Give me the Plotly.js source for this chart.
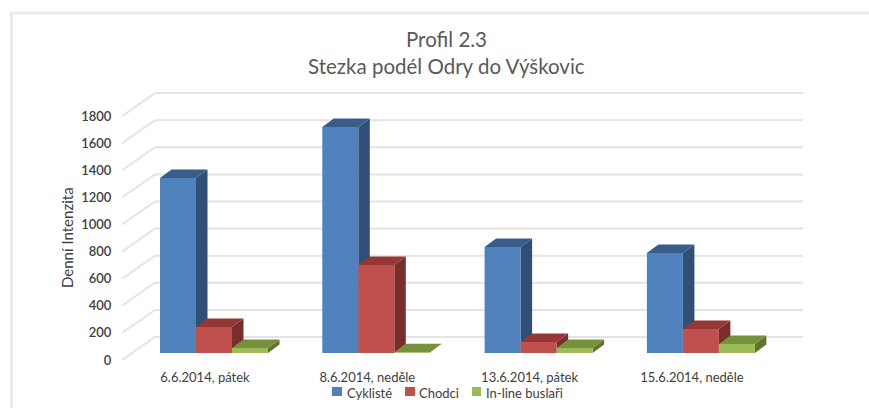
<!DOCTYPE html>
<html>
<head>
<meta charset="utf-8">
<script src="https://cdn.plot.ly/plotly-3.0.1.min.js"></script>
<style>html,body{margin:0;padding:0;background:#fff}#c{width:869px;height:408px}</style>
</head>
<body>
<div id="c"></div>
<script>
const categories = ['6.6.2014, pátek', '8.6.2014, neděle', '13.6.2014, pátek', '15.6.2014, neděle'];
const cykliste = [1291, 1668, 782, 738];
const chodci = [192, 650, 81, 177];
const inline = [37, 5, 37, 66];
const yTicks = [0, 200, 400, 600, 800, 1000, 1200, 1400, 1600, 1800];
const seriesNames = ['Cyklisté', 'Chodci', 'In-line buslaři'];
const seriesValues = [cykliste, chodci, inline];
const frontColors = ['#4F81BD', '#C0504D', '#9BBB59'];
const topColors = ['#385D8A', '#953735', '#76923C'];
const sideColors = ['#2F4F77', '#7A2E2C', '#5F752F'];

const W = 869, H = 408;
const L = 122, R = 803, T = 90, B = 362;
const pxPerCat = 162.3, pxPerUnit = 0.1355, base = 353, firstCenter = 214;
const px2x = p => (p - firstCenter) / pxPerCat;
const px2dy = d => d / pxPerUnit;
const xr = [px2x(L), px2x(R)];
const yr = [(base - B) / pxPerUnit, (base - T) / pxPerUnit];
const barW = 36 / pxPerCat, dX = 11.5 / pxPerCat, dY = px2dy(8.5);
const xs = categories.map((_, i) => i);

const traces = [];
// wall grid: front stem, back wall line
const gx = [], gy = [];
yTicks.forEach(v => {
  gx.push(px2x(L), px2x(155), px2x(R), null);
  gy.push(v - px2dy(7), v + px2dy(16), v + px2dy(16), null);
});
traces.push({type:'scatter', mode:'lines', x:gx, y:gy, xaxis:'x', yaxis:'y', showlegend:false, hoverinfo:'skip',
  line:{color:'#E4E4E4', width:2}});

// depth faces, drawn behind the fronts
seriesValues.forEach((vals, s) => {
  vals.forEach((v, i) => {
    const x0 = i + (s - 1.5) * barW, x1 = x0 + barW;
    traces.push({type:'scatter', mode:'lines', fill:'toself', fillcolor:sideColors[s], line:{width:0}, xaxis:'x2', yaxis:'y2',
      showlegend:false, hoverinfo:'skip',
      x:[x1, x1 + dX, x1 + dX, x1, x1], y:[0, dY, v + dY, v, 0]});
    traces.push({type:'scatter', mode:'lines', fill:'toself', fillcolor:topColors[s], line:{width:0}, xaxis:'x2', yaxis:'y2',
      showlegend:false, hoverinfo:'skip',
      x:[x0, x1, x1 + dX, x0 + dX, x0], y:[v, v, v + dY, v + dY, v]});
  });
});
// fronts
seriesValues.forEach((vals, s) => {
  traces.push({type:'bar', name:seriesNames[s], x:xs, y:vals, xaxis:'x3', yaxis:'y3', marker:{color:frontColors[s]}, showlegend:false});
});

// paper coordinates run over the plot area, so page pixels are converted against it
const fx = p => (p - L) / (R - L), fy = p => (B - p) / (B - T);
const shapes = [
  {type:'line', xref:'paper', yref:'paper', x0:fx(10), x1:fx(W), y0:fy(13), y1:fy(13), line:{color:'#EAEAEA', width:3}},
  {type:'line', xref:'paper', yref:'paper', x0:fx(11.5), x1:fx(11.5), y0:fy(13), y1:fy(H), line:{color:'#EAEAEA', width:3}}
];
const swatches = [[332, 342], [405, 415], [472, 481]];
const legendText = [345, 417, 484];
const annotations = [
  {text:'Profil 2.3', xref:'paper', yref:'paper', x:fx(446), y:fy(39), showarrow:false, xanchor:'center', yanchor:'middle',
   font:{family:'Lato', size:20.5, color:'#595959'}},
  {text:'Stezka podél Odry do Výškovic', xref:'paper', yref:'paper', x:fx(446), y:fy(66), showarrow:false, xanchor:'center', yanchor:'middle',
   font:{family:'Lato', size:20.5, color:'#595959'}},
  {text:'Denní Intenzita', xref:'paper', yref:'paper', x:fx(67), y:fy(238), showarrow:false, textangle:-90, xanchor:'center', yanchor:'middle',
   font:{family:'Lato', size:15, color:'#404040'}}
];
seriesNames.forEach((n, s) => {
  shapes.push({type:'rect', xref:'paper', yref:'paper', x0:fx(swatches[s][0]), x1:fx(swatches[s][1]), y0:fy(387), y1:fy(396),
    fillcolor:frontColors[s], line:{width:0}});
  annotations.push({text:n, xref:'paper', yref:'paper', x:fx(legendText[s]), y:fy(392.5), showarrow:false, xanchor:'left', yanchor:'middle',
    font:{family:'Lato', size:13, color:'#404040'}});
});

const hidden = a => Object.assign({visible:false, fixedrange:true}, a);
const layout = {
  width:W, height:H, autosize:false, showlegend:false, paper_bgcolor:'#fff', plot_bgcolor:'rgba(0,0,0,0)',
  margin:{l:L, r:W - R, t:T, b:H - B, pad:0},
  barmode:'group', bargap:1 - 3 * barW, bargroupgap:0,
  font:{family:'Lato', color:'#404040'},
  xaxis:{range:xr, tickmode:'array', tickvals:xs, ticktext:categories, showgrid:false, zeroline:false, showline:false,
    ticks:'outside', ticklen:3, tickcolor:'rgba(0,0,0,0)', ticklabelshift:-9, tickfont:{family:'Lato', size:13, color:'#404040'}},
  yaxis:{range:yr, tickmode:'array', tickvals:yTicks, showgrid:false, zeroline:false, showline:false,
    ticks:'outside', ticklen:7, tickcolor:'rgba(0,0,0,0)', ticklabelshift:7, tickfont:{family:'Lato', size:13, weight:600, color:'#404040'}},
  xaxis2:hidden({range:xr, overlaying:'x', anchor:'y2'}),
  yaxis2:hidden({range:yr, overlaying:'y', anchor:'x2'}),
  xaxis3:hidden({range:xr, overlaying:'x', anchor:'y3'}),
  yaxis3:hidden({range:yr, overlaying:'y', anchor:'x3'}),
  shapes, annotations
};
Plotly.newPlot('c', traces, layout, {displayModeBar:false, staticPlot:true});
</script>
</body>
</html>
